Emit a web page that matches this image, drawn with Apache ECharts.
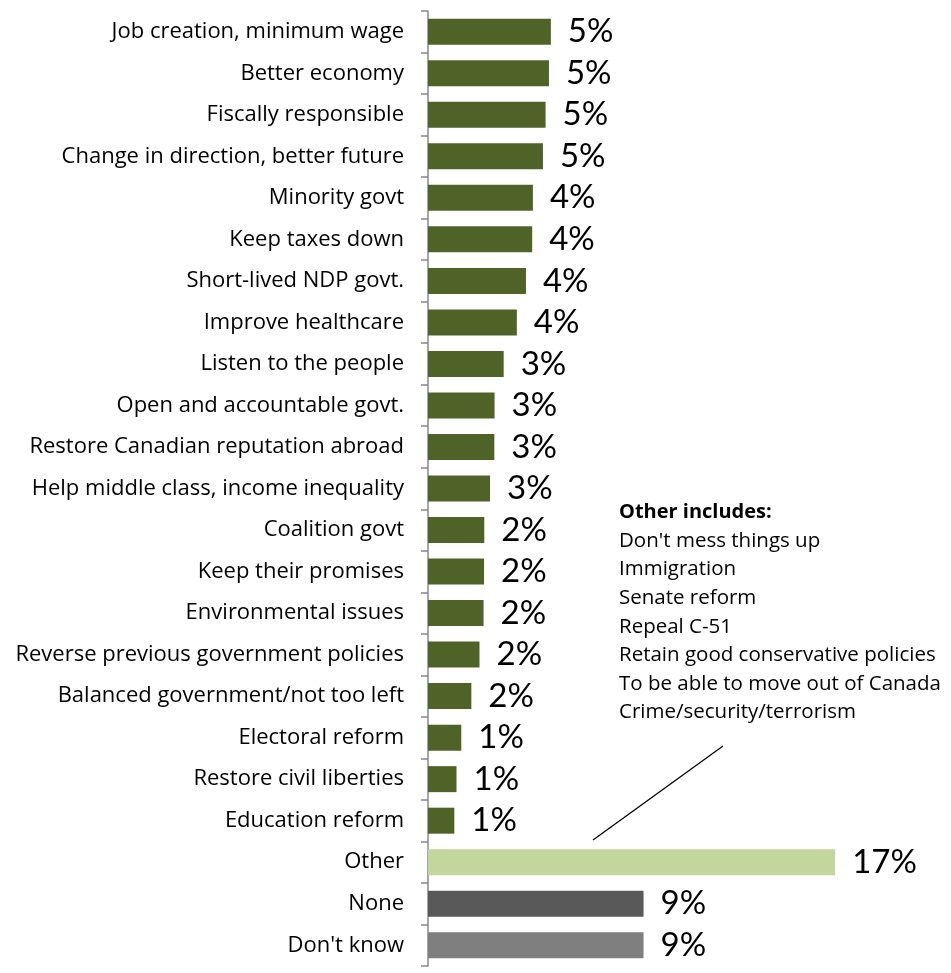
<!DOCTYPE html>
<html>
<head>
<meta charset="utf-8">
<script src="https://cdn.jsdelivr.net/npm/echarts@6/dist/echarts.min.js"></script>
<style>html,body{margin:0;padding:0;background:#fff;}#c{width:951px;height:973px;}</style>
</head>
<body>
<div id="c"></div>
<script>
const categories = [
  "Job creation, minimum wage","Better economy","Fiscally responsible","Change in direction, better future",
  "Minority govt","Keep taxes down","Short-lived NDP govt.","Improve healthcare","Listen to the people",
  "Open and accountable govt.","Restore Canadian reputation abroad","Help middle class, income inequality",
  "Coalition govt","Keep their promises","Environmental issues","Reverse previous government policies",
  "Balanced government/not too left","Electoral reform","Restore civil liberties","Education reform",
  "Other","None","Don't know"
];
const values = [5.13,5.05,4.91,4.80,4.38,4.35,4.09,3.71,3.16,2.78,2.77,2.59,2.35,2.34,2.32,2.15,1.81,1.39,1.19,1.10,17.0,9.0,9.0];
const valueLabels = ["5%","5%","5%","5%","4%","4%","4%","4%","3%","3%","3%","3%","2%","2%","2%","2%","2%","1%","1%","1%","17%","9%","9%"];
const barColors = ["#4F6228","#4F6228","#4F6228","#4F6228","#4F6228","#4F6228","#4F6228","#4F6228","#4F6228","#4F6228","#4F6228","#4F6228","#4F6228","#4F6228","#4F6228","#4F6228","#4F6228","#4F6228","#4F6228","#4F6228","#C3D69B","#595959","#7F7F7F"];
const noteTitle = "Other includes:";
const noteLines = ["Don't mess things up","Immigration","Senate reform","Repeal C-51","Retain good conservative policies","To be able to move out of Canada","Crime/security/terrorism"];

const FONT = "'Open Sans', sans-serif";
const VFONT = "Lato, 'Open Sans', sans-serif";
const chart = echarts.init(document.getElementById('c'));
const graphics = [{
  type:'text', x:619, y:512,
  style:{text:noteTitle, font:"bold 20px " + FONT, fill:'#000', verticalAlign:'middle'}
}];
noteLines.forEach((t,i)=>{
  graphics.push({type:'text', x:619, y:541 + i*28.6, style:{text:t, font:"20.5px " + FONT, fill:'#000', verticalAlign:'middle'}});
});
graphics.push({type:'line', shape:{x1:593,y1:840,x2:723,y2:746}, style:{stroke:'#000', lineWidth:1.3}});

chart.setOption({
  animation:false,
  grid:{left:428, right:44, top:11, bottom:7, containLabel:false},
  xAxis:{type:'value', min:0, max:20, show:false},
  yAxis:{
    type:'category', inverse:true, data:categories,
    axisLine:{show:true, lineStyle:{color:'#888', width:1.5}},
    axisTick:{show:true, length:7, lineStyle:{color:'#888', width:1.5}},
    axisLabel:{color:'#000', fontSize:22, fontFamily:FONT, margin:24}
  },
  series:[{
    type:'bar', barWidth:26,
    data: values.map((v,i)=>({value:v, itemStyle:{color:barColors[i]}})),
    label:{show:true, position:'right', distance:17, color:'#000', fontSize:33, fontFamily:VFONT,
      formatter:p=>valueLabels[p.dataIndex]}
  }],
  graphic:graphics
});
</script>
</body>
</html>
